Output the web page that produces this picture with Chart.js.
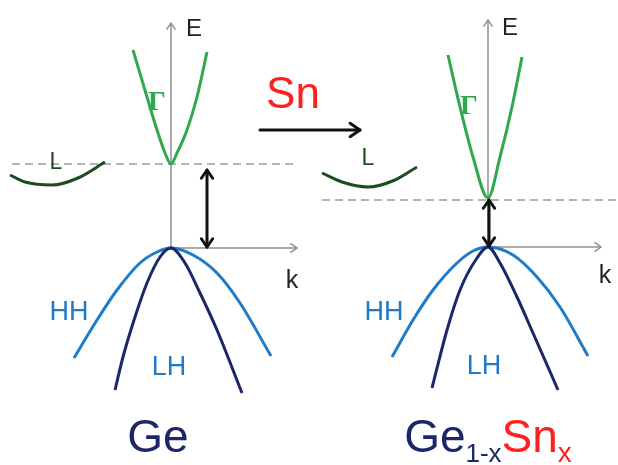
<!DOCTYPE html>
<html>
<head>
<meta charset="utf-8">
<script src="https://cdn.jsdelivr.net/npm/chart.js@4.4.0/dist/chart.umd.min.js"></script>
<style>
  html, body { margin: 0; padding: 0; background: #fff; }
  #wrap { width: 618px; height: 465px; }
</style>
</head>
<body>
<div id="wrap"><canvas id="bands"></canvas></div>
<script>
// band curves (k and E in arbitrary units, E = 0 at valence band top)
const gammaGeK  = [-0.38, -0.24, -0.14, -0.06, 0, 0.06, 0.16, 0.26, 0.36];
const gammaGeE  = [1.98, 1.51, 1.18, 0.95, 0.84, 0.95, 1.18, 1.51, 1.96];
const lGeK      = [-1.61, -1.46, -1.19, -0.93, -0.66];
const lGeE      = [0.73, 0.66, 0.63, 0.70, 0.86];
const hhGeK     = [-0.97, -0.74, -0.54, -0.31, -0.14, 0, 0.22, 0.46, 0.69, 1.00];
const hhGeE     = [-1.10, -0.72, -0.42, -0.15, -0.04, 0, -0.07, -0.25, -0.55, -1.08];
const lhGeK     = [-0.56, -0.48, -0.36, -0.24, -0.11, 0, 0.14, 0.29, 0.46, 0.71];
const lhGeE     = [-1.42, -1.09, -0.69, -0.35, -0.09, 0, -0.15, -0.45, -0.82, -1.45];

const gammaSnK  = [-0.40, -0.28, -0.15, 0, 0.12, 0.24, 0.34];
const gammaSnE  = [1.92, 1.40, 0.90, 0.49, 0.90, 1.40, 1.90];
const lSnK      = [-1.66, -1.46, -1.20, -0.93, -0.71];
const lSnE      = [0.74, 0.65, 0.60, 0.67, 0.80];
const hhSnK     = [-0.96, -0.75, -0.55, -0.31, -0.15, 0, 0.25, 0.49, 0.72, 1.00];
const hhSnE     = [-1.10, -0.73, -0.43, -0.16, -0.04, 0, -0.08, -0.30, -0.60, -1.09];
const lhSnK     = [-0.56, -0.41, -0.28, -0.11, 0, 0.12, 0.29, 0.45, 0.70];
const lhSnE     = [-1.41, -0.83, -0.43, -0.11, 0, -0.16, -0.50, -0.86, -1.43];

// conduction band minimum (dashed level) for each panel
const cbLevel   = [0.84, 0.48];
const panelShift = [0, 3.17];
const panelEShift = [0, 0.01];

const green = '#2fa84f', darkGreen = '#1d4d1f', lightBlue = '#1f7bc8', navy = '#1b2768', red = '#ff1f1f';

function pts(ks, es, p) {
    return ks.map((k, i) => ({ x: k + panelShift[p], y: es[i] + panelEShift[p] }));
}
function curve(label, ks, es, p, color) {
    return {
        label: label,
        data: pts(ks, es, p),
        showLine: true,
        borderColor: color,
        borderWidth: 3,
        pointRadius: 0,
        cubicInterpolationMode: 'monotone',
        fill: false
    };
}

const panels = [
    { eTop: 2.25, kEnd: 1.26, dashFrom: -1.59, dashTo: 1.26, gapK: 0.36, gapTop: 0.78 },
    { eTop: 2.28, kEnd: 1.13, dashFrom: -1.66, dashTo: 1.31, gapK: 0.01, gapTop: 0.47 }
];

const labels = [
    { t: 'E', p: 0, k: 0.23, e: 2.19, c: '#222', f: '24px "Liberation Sans"' },
    { t: 'Γ', p: 0, k: -0.14, e: 1.45, c: green, f: 'bold 28px "Liberation Serif"' },
    { t: 'L', p: 0, k: -1.15, e: 0.85, c: darkGreen, f: '23px "Liberation Sans"' },
    { t: 'k', p: 0, k: 1.21, e: -0.33, c: '#222', f: '25px "Liberation Sans"' },
    { t: 'HH', p: 0, k: -1.02, e: -0.65, c: lightBlue, f: '27px "Liberation Sans"' },
    { t: 'LH', p: 0, k: -0.02, e: -1.20, c: lightBlue, f: '27px "Liberation Sans"' },
    { t: 'E', p: 1, k: 0.22, e: 2.19, c: '#222', f: '24px "Liberation Sans"' },
    { t: 'Γ', p: 1, k: -0.19, e: 1.40, c: green, f: 'bold 28px "Liberation Serif"' },
    { t: 'L', p: 1, k: -1.20, e: 0.88, c: darkGreen, f: '23px "Liberation Sans"' },
    { t: 'k', p: 1, k: 1.17, e: -0.29, c: '#222', f: '25px "Liberation Sans"' },
    { t: 'HH', p: 1, k: -1.04, e: -0.66, c: lightBlue, f: '27px "Liberation Sans"' },
    { t: 'LH', p: 1, k: -0.04, e: -1.20, c: lightBlue, f: '27px "Liberation Sans"' },
    { t: 'Sn', p: 0, k: 1.22, e: 1.52, c: red, f: '44px "Liberation Sans"' }
];

function head(ctx, x, y, ang, size) {
    ctx.beginPath();
    ctx.moveTo(x - size * Math.cos(ang - 0.6), y - size * Math.sin(ang - 0.6));
    ctx.lineTo(x, y);
    ctx.lineTo(x - size * Math.cos(ang + 0.6), y - size * Math.sin(ang + 0.6));
    ctx.stroke();
}

const diagramPlugin = {
    id: 'diagram',
    beforeDatasetsDraw(chart) {
        const ctx = chart.ctx, xs = chart.scales.x, ys = chart.scales.y;
        ctx.save();
        panels.forEach((pn, p) => {
            const x0 = xs.getPixelForValue(panelShift[p]);
            const y0 = ys.getPixelForValue(panelEShift[p]);
            // dashed CB level
            ctx.strokeStyle = '#9a9a9a';
            ctx.lineWidth = 1.5;
            ctx.setLineDash([8, 5]);
            const yc = ys.getPixelForValue(cbLevel[p]);
            ctx.beginPath();
            ctx.moveTo(xs.getPixelForValue(pn.dashFrom + panelShift[p]), yc);
            ctx.lineTo(xs.getPixelForValue(pn.dashTo + panelShift[p]), yc);
            ctx.stroke();
            ctx.setLineDash([]);
            // axes
            ctx.strokeStyle = '#909090';
            const yt = ys.getPixelForValue(pn.eTop);
            const xe = xs.getPixelForValue(pn.kEnd + panelShift[p]);
            ctx.beginPath();
            ctx.moveTo(x0, y0);
            ctx.lineTo(x0, yt);
            ctx.moveTo(x0, y0);
            ctx.lineTo(xe, y0);
            ctx.stroke();
            head(ctx, x0, yt, -Math.PI / 2, 8);
            head(ctx, xe, y0, 0, 8);
        });
        ctx.restore();
    },
    afterDatasetsDraw(chart) {
        const ctx = chart.ctx, xs = chart.scales.x, ys = chart.scales.y;
        ctx.save();
        ctx.strokeStyle = '#111';
        ctx.lineWidth = 3;
        ctx.lineCap = 'round';
        ctx.lineJoin = 'round';
        // band gap double arrows
        panels.forEach((pn, p) => {
            const x = xs.getPixelForValue(pn.gapK + panelShift[p]);
            const yT = ys.getPixelForValue(pn.gapTop + panelEShift[p]);
            const yB = ys.getPixelForValue(0.01 + panelEShift[p]);
            ctx.beginPath();
            ctx.moveTo(x, yT);
            ctx.lineTo(x, yB);
            ctx.stroke();
            head(ctx, x, yT, -Math.PI / 2, 10);
            head(ctx, x, yB, Math.PI / 2, 10);
        });
        // Sn alloying arrow
        const ya = ys.getPixelForValue(1.18);
        const xa0 = xs.getPixelForValue(0.89), xa1 = xs.getPixelForValue(1.89);
        ctx.beginPath();
        ctx.moveTo(xa0, ya);
        ctx.lineTo(xa1, ya);
        ctx.stroke();
        head(ctx, xa1, ya, 0, 12);

        // labels
        ctx.textAlign = 'center';
        ctx.textBaseline = 'middle';
        labels.forEach(l => {
            ctx.font = l.f;
            ctx.fillStyle = l.c;
            ctx.fillText(l.t, xs.getPixelForValue(l.k + panelShift[l.p]), ys.getPixelForValue(l.e + panelEShift[l.p]));
        });

        // material names
        ctx.textAlign = 'left';
        ctx.textBaseline = 'alphabetic';
        const base = ys.getPixelForValue(-2.04);
        ctx.font = '46px "Liberation Sans"';
        ctx.fillStyle = navy;
        const wGe = ctx.measureText('Ge').width;
        ctx.fillText('Ge', xs.getPixelForValue(-0.13) - wGe / 2, base);

        const parts = [
            { t: 'Ge', c: navy, f: '46px "Liberation Sans"', dy: 0 },
            { t: '1-x', c: navy, f: '26px "Liberation Sans"', dy: 10 },
            { t: 'Sn', c: red, f: '46px "Liberation Sans"', dy: 0 },
            { t: 'x', c: red, f: '28px "Liberation Sans"', dy: 10 }
        ];
        let total = 0;
        parts.forEach(pt => { ctx.font = pt.f; pt.w = ctx.measureText(pt.t).width; total += pt.w; });
        let x = xs.getPixelForValue(panelShift[1]) - total / 2;
        parts.forEach(pt => {
            ctx.font = pt.f;
            ctx.fillStyle = pt.c;
            ctx.fillText(pt.t, x, base + pt.dy);
            x += pt.w;
        });
        ctx.restore();
    }
};

new Chart(document.getElementById('bands'), {
    type: 'scatter',
    data: {
        datasets: [
            curve('LH Ge', lhGeK, lhGeE, 0, navy),
            curve('HH Ge', hhGeK, hhGeE, 0, lightBlue),
            curve('L Ge', lGeK, lGeE, 0, darkGreen),
            curve('Gamma Ge', gammaGeK, gammaGeE, 0, green),
            curve('LH GeSn', lhSnK, lhSnE, 1, navy),
            curve('HH GeSn', hhSnK, hhSnE, 1, lightBlue),
            curve('L GeSn', lSnK, lSnE, 1, darkGreen),
            curve('Gamma GeSn', gammaSnK, gammaSnE, 1, green)
        ]
    },
    options: {
        responsive: true,
        maintainAspectRatio: false,
        animation: false,
        layout: { padding: 0 },
        plugins: {
            legend: { display: false },
            tooltip: { enabled: false }
        },
        scales: {
            x: { type: 'linear', display: false, min: -1.71, max: 4.47 },
            y: { type: 'linear', display: false, min: -2.17, max: 2.48 }
        }
    },
    plugins: [diagramPlugin]
});
</script>
</body>
</html>
